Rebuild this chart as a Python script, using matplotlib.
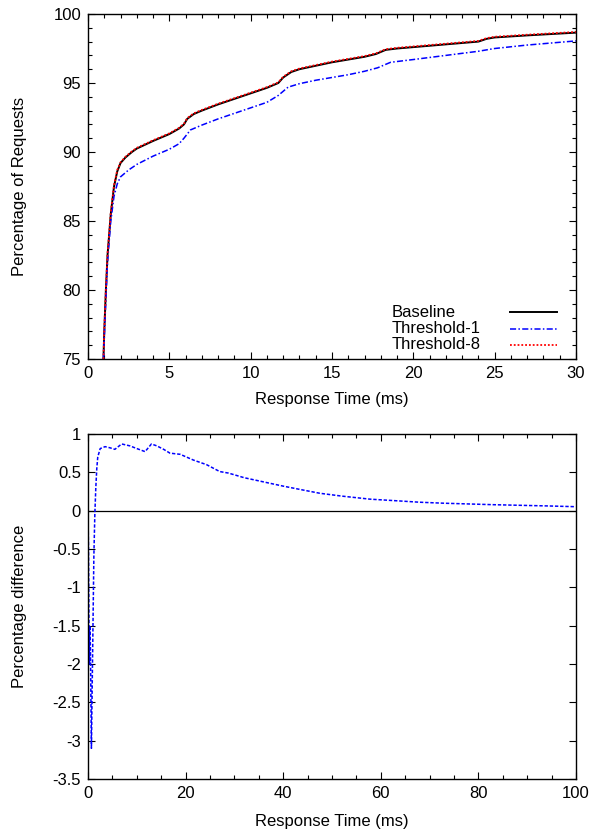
import matplotlib
matplotlib.use("Agg")
import matplotlib.pyplot as plt
from matplotlib.ticker import MultipleLocator, FuncFormatter

plt.rcParams['font.family'] = ['Liberation Sans', 'DejaVu Sans']
FS = 12
plt.rcParams['font.size'] = FS

# ---- Top plot data (CDF of response time) ----
base_t = [0.95, 1.0, 1.1, 1.2, 1.4, 1.6, 1.8, 2.0, 2.3, 2.7, 3, 4, 5, 5.6, 5.9, 6.1, 6.5, 7, 8, 9, 10,
          11, 11.7, 12, 12.5, 13, 14, 15, 16, 17, 17.7, 18.3, 19, 20, 22, 24, 24.5, 25, 27, 30]
base_p = [75, 77, 80, 82.5, 85.5, 87.5, 88.6, 89.2, 89.6, 90.0, 90.25, 90.8, 91.3, 91.7, 92.0, 92.4,
          92.75, 93.0, 93.45, 93.85, 94.25, 94.65, 95.0, 95.4, 95.8, 96.0, 96.25, 96.5, 96.7, 96.9,
          97.1, 97.4, 97.5, 97.6, 97.8, 98.0, 98.2, 98.3, 98.45, 98.65]

thr8_t = base_t
thr8_p = [75, 77.1, 80.1, 82.6, 85.6, 87.6, 88.7, 89.25, 89.65, 90.05, 90.3, 90.85, 91.35, 91.75,
          92.05, 92.45, 92.8, 93.05, 93.5, 93.9, 94.3, 94.7, 95.05, 95.45, 95.85, 96.05, 96.3, 96.55,
          96.75, 96.95, 97.15, 97.45, 97.55, 97.65, 97.85, 98.05, 98.25, 98.35, 98.5, 98.7]

thr1_t = [0.95, 1.05, 1.2, 1.4, 1.6, 1.8, 2.0, 2.5, 3, 4, 5, 5.6, 5.9, 6.3, 7, 8, 9, 10, 11, 11.7,
          12.3, 13, 14, 15, 16, 17, 17.8, 18.6, 20, 22, 24, 25, 27, 30]
thr1_p = [75, 78, 82, 85, 86.8, 87.7, 88.2, 88.7, 89.1, 89.7, 90.2, 90.6, 91.0, 91.6, 91.95, 92.4,
          92.8, 93.2, 93.6, 94.1, 94.7, 94.95, 95.2, 95.4, 95.6, 95.85, 96.1, 96.5, 96.7, 97.0,
          97.3, 97.5, 97.75, 98.05]

labels = ["Baseline", "Threshold-1", "Threshold-8"]

# ---- Bottom plot data (percentage difference) ----
diff_t = [0, 0.1, 0.2, 0.3, 0.4, 0.5, 0.6, 0.7, 0.8, 1.0, 1.2, 1.4, 1.6, 1.8, 2.0, 2.5, 3.5, 4.5,
          5.5, 6.9, 8.6, 10, 11.7, 13.0, 14.1, 15.5, 16.8, 18.9, 21.6, 24.3, 27.0, 28.8, 32, 37.3,
          40, 44, 47.5, 52, 57.8, 63, 68, 73, 78.3, 83, 88.5, 94, 99.8]
diff_v = [0, -0.5, -1.5, -2.0, -1.5, -1.8, -2.5, -3.1, -2.6, -1.6, -0.6, -0.05, 0.3, 0.55, 0.7,
          0.81, 0.835, 0.82, 0.80, 0.87, 0.845, 0.81, 0.77, 0.87, 0.845, 0.8, 0.75, 0.735, 0.66,
          0.60, 0.51, 0.49, 0.43, 0.357, 0.32, 0.27, 0.227, 0.19, 0.15, 0.13, 0.11, 0.097, 0.087,
          0.078, 0.07, 0.062, 0.052]

fig = plt.figure(figsize=(5.97, 8.30), dpi=100)

def style(ax):
    ax.tick_params(which='both', direction='in', top=True, right=True, pad=5, labelsize=FS)
    ax.tick_params(which='major', length=5, width=0.8)
    ax.tick_params(which='minor', length=3, width=0.8)
    for s in ax.spines.values():
        s.set_linewidth(1.0)

def labels_at(ax, xl, yl, xlab_y, ylab_x):
    ax.set_xlabel(xl, fontsize=FS)
    ax.set_ylabel(yl, fontsize=FS)
    ax.xaxis.label.set_va('center')
    ax.yaxis.label.set_va('center')
    ax.xaxis.set_label_coords(0.5, xlab_y)
    ax.yaxis.set_label_coords(ylab_x, 0.5)

gfmt = FuncFormatter(lambda v, p: ('%g' % v))

# Top
ax1 = fig.add_axes([88/597, 1-359/830, 488/597, 345/830])
ax1.plot(base_t, base_p, color='black', lw=1.4, solid_capstyle='butt')
ax1.plot(thr1_t, thr1_p, color='#0000ff', lw=1.1, dashes=[4, 1.5, 1, 1.5])
ax1.plot(thr8_t, thr8_p, color='#ff0000', lw=1.3, dashes=[1, 1.1])
ax1.set_xlim(0, 30)
ax1.set_ylim(75, 100)
ax1.xaxis.set_major_locator(MultipleLocator(5))
ax1.xaxis.set_minor_locator(MultipleLocator(1))
ax1.yaxis.set_major_locator(MultipleLocator(5))
ax1.yaxis.set_minor_locator(MultipleLocator(1))
ax1.xaxis.set_major_formatter(gfmt)
ax1.yaxis.set_major_formatter(gfmt)
style(ax1)
labels_at(ax1, "Response Time (ms)", "Percentage of Requests", -(399-359)/345, -(88-20)/488)

# manual gnuplot-style key
key_y = [0.136, 0.088, 0.041]
key_styles = [dict(color='black', lw=1.4),
              dict(color='#0000ff', lw=1.1, dashes=[4, 1.5, 1, 1.5]),
              dict(color='#ff0000', lw=1.3, dashes=[1, 1.1])]
for lab, yy, st in zip(labels, key_y, key_styles):
    ax1.text(0.623, yy, lab, transform=ax1.transAxes, ha='left', va='center', fontsize=FS)
    ax1.plot([0.865, 0.961], [yy, yy], transform=ax1.transAxes, **st)

# Bottom
ax2 = fig.add_axes([88/597, 1-779/830, 488/597, 345/830])
ax2.axhline(0, color='black', lw=0.9)
ax2.plot(diff_t, diff_v, color='#0000ff', lw=1.1, dashes=[2.2, 1.2])
ax2.set_xlim(0, 100)
ax2.set_ylim(-3.5, 1)
ax2.xaxis.set_major_locator(MultipleLocator(20))
ax2.xaxis.set_minor_locator(MultipleLocator(5))
ax2.yaxis.set_major_locator(MultipleLocator(0.5))
ax2.xaxis.set_major_formatter(gfmt)
ax2.yaxis.set_major_formatter(gfmt)
style(ax2)
labels_at(ax2, "Response Time (ms)", "Percentage difference", -(821-779)/345, -(88-20)/488)

fig.savefig("out.png", dpi=100)
